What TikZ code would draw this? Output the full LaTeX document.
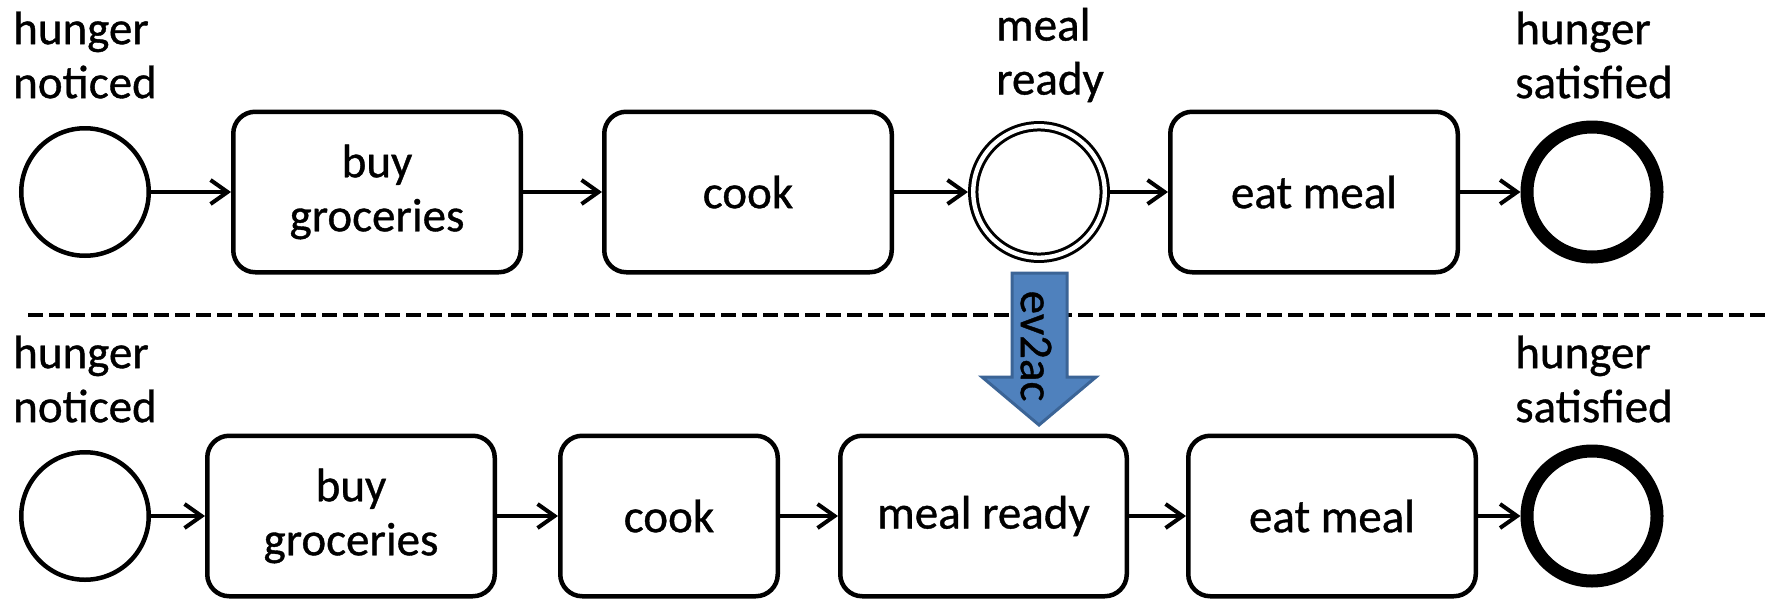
\documentclass[tikz,border=0pt]{standalone}
\usepackage{fontspec}
\setmainfont{Carlito}[FakeBold=0.8]
\usetikzlibrary{arrows.meta}
\definecolor{evblue}{HTML}{4F81BD}
\definecolor{evborder}{HTML}{3B6496}
\begin{document}
\begin{tikzpicture}[x=0.5pt,y=-0.5pt,
  txt/.style={font=\fontsize{23.5}{27}\selectfont},
  task/.style={txt, draw, line width=2.25pt, rounded corners=11pt, minimum height=80.25pt, align=center, inner sep=0pt},
  startev/.style={draw, circle, line width=2.25pt, minimum size=63.75pt, inner sep=0pt},
  midev/.style={draw, circle, double, double distance=2.2pt, line width=1.5pt, minimum size=65.75pt, inner sep=0pt},
  endev/.style={draw, circle, line width=6.5pt, minimum size=65pt, inner sep=0pt},
  lbl/.style={txt, align=left, inner sep=0pt},
  flow/.style={line width=2pt, -{Straight Barb[length=8.5pt,width=12pt]}},
  sep/.style={line width=2pt, dash pattern=on 7.5pt off 3pt},
  bigarrow/.style={fill=evblue, draw=evborder, line width=1.5pt, line join=miter},
]
\useasboundingbox (0,0) rectangle (1783,600);

% top row
\node[startev] (s1) at (85,192) {};
\node[task, minimum width=143.75pt] (b1) at (377,192) {buy\\groceries};
\node[task, minimum width=143.75pt] (c1) at (748,192) {cook};
\node[midev] (m1) at (1039,192) {};
\node[task, minimum width=143.75pt] (e1) at (1314,192) {eat meal};
\node[endev] (f1) at (1592,192) {};

\node[lbl] (ls1) at (85,55) {hunger\\noticed};
\node[lbl] (lm1) at (1050,55) {meal\\ready};
\node[lbl] (lf1) at (1594,55) {hunger\\satisfied};

\draw[flow] (s1) -- (b1);
\draw[flow] (b1) -- (c1);
\draw[flow, shorten >=1.9pt] (c1) -- (m1);
\draw[flow, shorten <=1.9pt] (m1) -- (e1);
\draw[flow] (e1) -- (f1);

% separator
\coordinate (dl) at (28,315);
\coordinate (dr) at (1768,315);
\draw[sep] (dl) -- (dr);

% ev2ac arrow
\draw[bigarrow] (1012,273) -- (1067,273) -- (1067,377) -- (1096,377) -- (1039,425) -- (982,377) -- (1012,377) -- cycle;
\node[txt, rotate=-90, inner sep=0pt] (ev) at (1036,346) {ev2ac};

% bottom row
\node[startev] (s2) at (85,516) {};
\node[task, minimum width=143.75pt] (b2) at (351,516) {buy\\groceries};
\node[task, minimum width=108.75pt] (c2) at (669,516) {cook};
\node[task, minimum width=143.25pt] (m2) at (983.5,516) {meal ready};
\node[task, minimum width=143.75pt] (e2) at (1332,516) {eat meal};
\node[endev] (f2) at (1592,516) {};

\node[lbl] (ls2) at (85,379) {hunger\\noticed};
\node[lbl] (lf2) at (1594,379) {hunger\\satisfied};

\draw[flow] (s2) -- (b2);
\draw[flow] (b2) -- (c2);
\draw[flow] (c2) -- (m2);
\draw[flow] (m2) -- (e2);
\draw[flow] (e2) -- (f2);
\end{tikzpicture}
\end{document}
